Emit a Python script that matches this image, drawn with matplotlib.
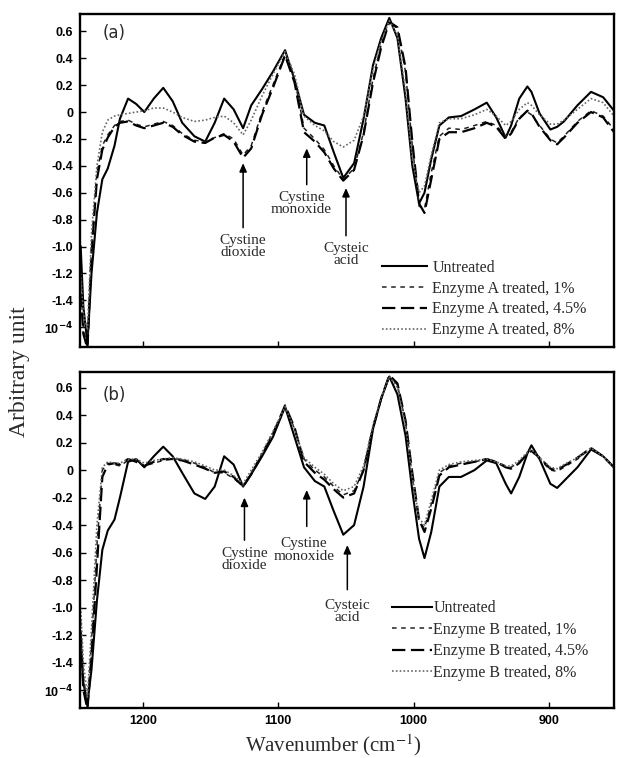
import matplotlib
matplotlib.use("Agg")
import matplotlib.pyplot as plt

# ---------------- data ----------------
wavenumber = [1246, 1244, 1241, 1238, 1234, 1230, 1226, 1221, 1217, 1211, 1205, 1199,
              1192, 1185, 1178, 1171, 1162, 1154, 1147, 1140, 1133, 1126, 1120, 1112,
              1104, 1095, 1088, 1081, 1073, 1066, 1059, 1052, 1044, 1037, 1030, 1024,
              1018, 1012, 1006, 1001, 996, 992, 987, 981, 974, 965, 955, 946, 939, 932,
              928, 922, 916, 913, 907, 899, 894, 889, 879, 869, 860, 852]

# panel (a) – Enzyme A
a_untreated = [-1.00, -1.45, -1.72, -1.20, -0.75, -0.50, -0.42, -0.25, -0.05, 0.10, 0.06, 0.00,
               0.10, 0.18, 0.08, -0.08, -0.18, -0.22, -0.08, 0.10, 0.02, -0.12, 0.05, 0.17,
               0.30, 0.46, 0.24, -0.02, -0.08, -0.10, -0.30, -0.49, -0.38, -0.05, 0.35, 0.55,
               0.70, 0.55, 0.10, -0.40, -0.68, -0.60, -0.35, -0.10, -0.04, -0.03, 0.02, 0.07, -0.04, -0.19,
               -0.10, 0.10, 0.19, 0.15, -0.01, -0.13, -0.11, -0.07, 0.05, 0.15, 0.11, 0.01]
a_1pct = [-1.30, -1.60, -1.75, -1.00, -0.45, -0.25, -0.17, -0.10, -0.07, -0.06, -0.09, -0.11,
          -0.09, -0.07, -0.10, -0.16, -0.21, -0.22, -0.19, -0.16, -0.20, -0.32, -0.25, 0.00,
          0.20, 0.43, 0.25, -0.12, -0.20, -0.28, -0.40, -0.50, -0.42, -0.15, 0.25, 0.50,
          0.68, 0.62, 0.30, -0.25, -0.70, -0.72, -0.45, -0.18, -0.12, -0.13, -0.10, -0.07, -0.10, -0.18,
          -0.15, -0.04, 0.00, -0.02, -0.10, -0.20, -0.23, -0.18, -0.07, 0.01, -0.03, -0.13]
a_45pct = [-1.35, -1.65, -1.76, -1.05, -0.50, -0.28, -0.19, -0.11, -0.08, -0.07, -0.10, -0.12,
           -0.10, -0.08, -0.11, -0.17, -0.22, -0.23, -0.19, -0.17, -0.22, -0.34, -0.27, -0.02,
           0.18, 0.42, 0.22, -0.15, -0.22, -0.30, -0.42, -0.51, -0.43, -0.17, 0.22, 0.48,
           0.67, 0.63, 0.33, -0.22, -0.68, -0.75, -0.50, -0.20, -0.15, -0.15, -0.12, -0.08, -0.11, -0.20,
           -0.16, -0.05, 0.01, -0.01, -0.11, -0.21, -0.24, -0.19, -0.08, 0.00, -0.04, -0.15]
a_8pct = [-1.20, -1.50, -1.62, -0.90, -0.40, -0.15, -0.06, -0.03, -0.02, -0.01, 0.00, 0.01,
          0.03, 0.03, 0.00, -0.04, -0.07, -0.06, -0.04, -0.03, -0.08, -0.17, -0.06, 0.12,
          0.28, 0.45, 0.28, -0.03, -0.10, -0.14, -0.22, -0.26, -0.21, -0.03, 0.32, 0.53,
          0.68, 0.57, 0.15, -0.35, -0.60, -0.55, -0.32, -0.08, -0.05, -0.05, -0.02, 0.02, -0.03, -0.10,
          -0.07, 0.02, 0.07, 0.05, -0.02, -0.09, -0.09, -0.06, 0.02, 0.10, 0.07, -0.03]

# panel (b) – Enzyme B
b_untreated = [-1.30, -1.55, -1.70, -1.45, -0.95, -0.58, -0.44, -0.36, -0.20, 0.06, 0.08, 0.02,
               0.10, 0.17, 0.10, -0.02, -0.17, -0.21, -0.12, 0.10, 0.04, -0.12, -0.03, 0.10,
               0.24, 0.46, 0.24, 0.02, -0.08, -0.12, -0.30, -0.47, -0.40, -0.12, 0.30, 0.52,
               0.68, 0.55, 0.25, -0.15, -0.50, -0.64, -0.45, -0.12, -0.05, -0.05, 0.00, 0.07, 0.05, -0.10,
               -0.17, -0.05, 0.12, 0.18, 0.08, -0.10, -0.13, -0.08, 0.02, 0.15, 0.10, 0.02]
b_1pct = [-1.10, -1.50, -1.72, -1.25, -0.55, 0.00, 0.05, 0.04, 0.03, 0.07, 0.07, 0.03,
          0.05, 0.07, 0.08, 0.08, 0.05, 0.02, -0.02, -0.02, -0.06, -0.12, -0.02, 0.12,
          0.27, 0.46, 0.30, 0.08, 0.00, -0.05, -0.12, -0.18, -0.15, 0.00, 0.32, 0.52,
          0.68, 0.62, 0.35, -0.05, -0.38, -0.42, -0.25, -0.02, 0.03, 0.05, 0.06, 0.08, 0.06, 0.03,
          0.02, 0.06, 0.12, 0.14, 0.08, 0.00, -0.01, 0.02, 0.08, 0.16, 0.10, 0.02]
b_45pct = [-1.20, -1.60, -1.74, -1.35, -0.70, -0.05, 0.04, 0.05, 0.04, 0.08, 0.06, 0.03,
           0.06, 0.08, 0.08, 0.07, 0.04, 0.01, -0.02, -0.01, -0.05, -0.12, -0.03, 0.11,
           0.26, 0.47, 0.31, 0.06, -0.02, -0.07, -0.14, -0.20, -0.17, 0.00, 0.31, 0.52,
           0.69, 0.63, 0.36, -0.02, -0.36, -0.45, -0.28, -0.04, 0.02, 0.04, 0.06, 0.08, 0.06, 0.02,
           0.01, 0.05, 0.12, 0.14, 0.09, 0.01, 0.00, 0.03, 0.09, 0.16, 0.10, 0.02]
b_8pct = [-1.00, -1.40, -1.65, -1.15, -0.40, 0.02, 0.06, 0.05, 0.05, 0.08, 0.08, 0.05,
          0.07, 0.08, 0.09, 0.08, 0.06, 0.03, 0.00, 0.00, -0.04, -0.10, 0.00, 0.13,
          0.28, 0.46, 0.30, 0.09, 0.02, -0.03, -0.10, -0.15, -0.12, 0.03, 0.33, 0.53,
          0.68, 0.60, 0.33, -0.05, -0.35, -0.40, -0.22, 0.00, 0.04, 0.06, 0.07, 0.08, 0.06, 0.03,
          0.03, 0.07, 0.13, 0.15, 0.09, 0.02, 0.01, 0.04, 0.09, 0.16, 0.10, 0.02]

labels_a = ["Untreated", "Enzyme A treated, 1%", "Enzyme A treated, 4.5%", "Enzyme A treated, 8%"]
labels_b = ["Untreated", "Enzyme B treated, 1%", "Enzyme B treated, 4.5%", "Enzyme B treated, 8%"]

ytick_vals = [0.6, 0.4, 0.2, 0.0, -0.2, -0.4, -0.6, -0.8, -1.0, -1.2, -1.4, -1.6]
ytick_labels = ["0.6", "0.4", "0.2", "0", "-0.2", "-0.4", "-0.6", "-0.8", "-1.0", "-1.2", "-1.4",
                r"10$^{\mathbf{-4}}$"]
xtick_vals = [1200, 1100, 1000, 900]
xtick_labels = ["1200", "1100", "1000", "900"]

# ---------------- styling ----------------
SERIF = "Liberation Serif"
TICKFONT = dict(family="Liberation Sans", weight="bold", size=9)
TXT = "#2a2a2a"
styles = [
    dict(color="black", lw=1.5, ls="-"),
    dict(color="#222222", lw=1.1, ls=(0, (3.0, 3.0))),
    dict(color="black", lw=1.6, ls=(0, (6.0, 2.5))),
    dict(color="#666666", lw=1.2, ls=(0, (1.0, 1.3))),
]

fig = plt.figure(figsize=(6.18, 7.58), dpi=100)
fig.patch.set_facecolor("white")
ax1 = fig.add_axes([80 / 618, 1 - 347 / 758, 534 / 618, 333 / 758])
ax2 = fig.add_axes([80 / 618, 1 - 708 / 758, 534 / 618, 336 / 758])


def setup(ax, ylim, show_xlabels):
    ax.set_xlim(1246.5, 852)
    ax.set_ylim(*ylim)
    ax.set_yticks(ytick_vals)
    ax.set_yticklabels(ytick_labels, fontdict=TICKFONT)
    for t in ax.get_yticklabels():
        t.set_math_fontfamily("dejavusans")
    ax.set_xticks(xtick_vals)
    if show_xlabels:
        ax.set_xticklabels(xtick_labels, fontdict=TICKFONT)
    else:
        ax.set_xticklabels([])
    ax.tick_params(axis="both", direction="in", length=4, width=1.0, pad=5, colors="black")
    for sp in ax.spines.values():
        sp.set_linewidth(1.7)


def annotate(ax, text, x_arrow, y_head, y_tail, x_text, y_text):
    ax.annotate("", xy=(x_arrow, y_head), xytext=(x_arrow, y_tail),
                arrowprops=dict(arrowstyle="-|>,head_length=0.5,head_width=0.22",
                                color="black", lw=1.1, shrinkA=0, shrinkB=0))
    ax.text(x_text, y_text, text, ha="center", va="center", fontsize=11,
            family=SERIF, color=TXT, linespacing=0.95)


def draw(ax, series, labels):
    for vals, st, lab in zip(series, styles, labels):
        ax.plot(wavenumber, vals, label=lab, solid_joinstyle="round",
                dash_joinstyle="round", **st)


# ----- panel (a)
draw(ax1, [a_untreated, a_1pct, a_45pct, a_8pct], labels_a)
setup(ax1, (-1.747, 0.729), False)
ax1.text(0.043, 0.943, "(a)", transform=ax1.transAxes, fontsize=12, family="DejaVu Sans",
         va="center", ha="left", color=TXT)
annotate(ax1, "Cystine\ndioxide", 1126, -0.38, -0.86, 1126, -1.00)
annotate(ax1, "Cystine\nmonoxide", 1079, -0.27, -0.54, 1083, -0.68)
annotate(ax1, "Cysteic\nacid", 1050, -0.565, -0.92, 1050, -1.06)
ax1.legend(loc="upper left", bbox_to_anchor=(0.5655, 0.262), frameon=False,
           borderaxespad=0, borderpad=0, handlelength=2.8, handletextpad=0.35,
           labelspacing=0.3, prop=dict(family=SERIF, size=11.5), labelcolor=TXT)

# ----- panel (b)
draw(ax2, [b_untreated, b_1pct, b_45pct, b_8pct], labels_b)
setup(ax2, (-1.73, 0.713), True)
ax2.text(0.043, 0.932, "(b)", transform=ax2.transAxes, fontsize=12, family="DejaVu Sans",
         va="center", ha="left", color=TXT)
annotate(ax2, "Cystine\ndioxide", 1125, -0.20, -0.51, 1125, -0.65)
annotate(ax2, "Cystine\nmonoxide", 1079, -0.145, -0.41, 1081, -0.58)
annotate(ax2, "Cysteic\nacid", 1049, -0.545, -0.87, 1049, -1.03)
ax2.legend(loc="upper left", bbox_to_anchor=(0.584, 0.321), frameon=False,
           borderaxespad=0, borderpad=0, handlelength=2.5, handletextpad=0.1,
           labelspacing=0.35, prop=dict(family=SERIF, size=11.5), labelcolor=TXT)

# ----- shared axis labels
fig.text(20 / 618, 1 - 372 / 758, "Arbitrary unit", rotation=90, ha="center", va="center",
         fontsize=17, family=SERIF, color=TXT)
fig.text(333 / 618, 1 - 745 / 758, r"Wavenumber (cm$^{-1}$)", ha="center", va="center",
         fontsize=15, family=SERIF, color=TXT, math_fontfamily="stix")

fig.savefig("out.png", dpi=100, facecolor="white")
